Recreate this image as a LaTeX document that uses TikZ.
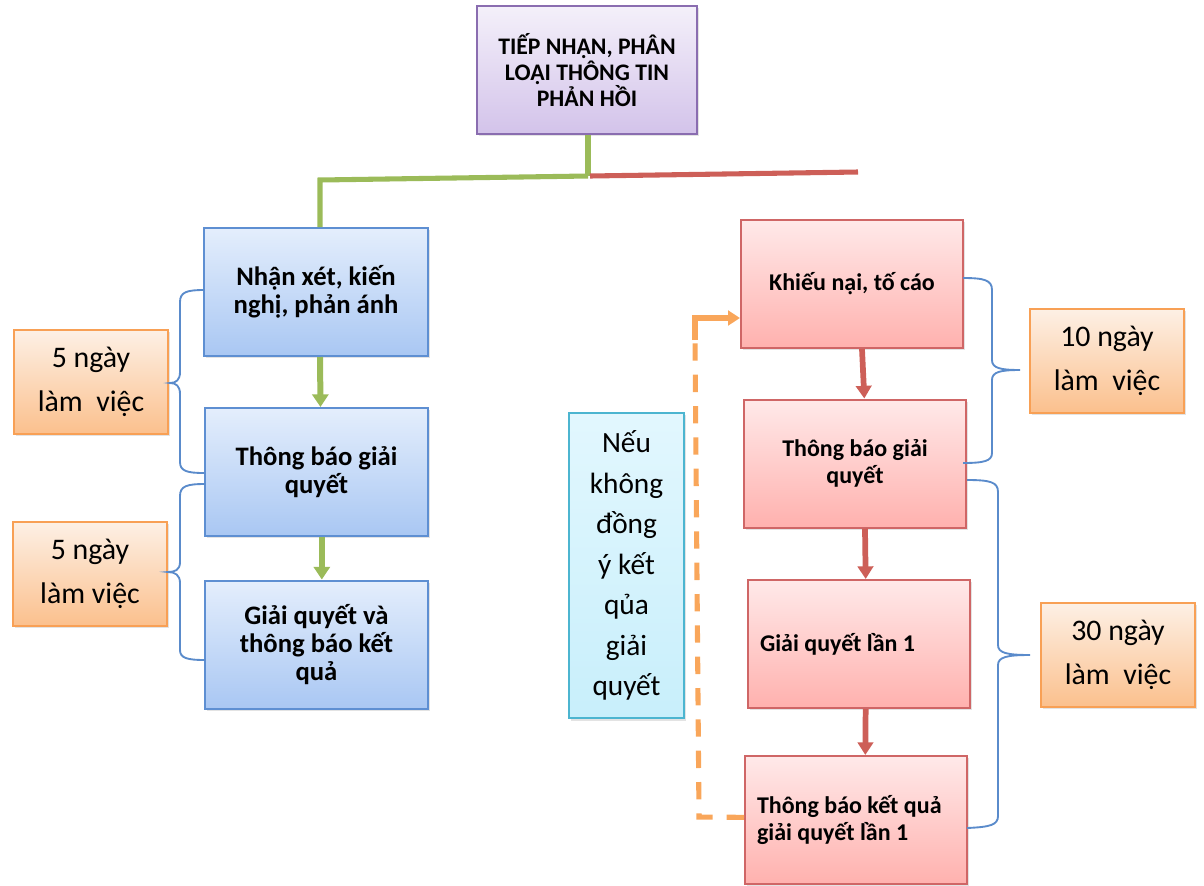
\documentclass[tikz,border=0pt]{standalone}
\usepackage{fontspec}
\setmainfont{Carlito}
\usetikzlibrary{arrows.meta,shadows,calc}
\definecolor{purbd}{HTML}{8A6DB0}
\definecolor{purtop}{HTML}{F4F0FA}
\definecolor{purbot}{HTML}{D3C3EA}
\definecolor{bluebd}{HTML}{5E8FD2}
\definecolor{bluetop}{HTML}{E4EEFC}
\definecolor{bluebot}{HTML}{A9C7F3}
\definecolor{redbd}{HTML}{CF6666}
\definecolor{redtop}{HTML}{FFE9E9}
\definecolor{redbot}{HTML}{FFB1AE}
\definecolor{orbd}{HTML}{F8A055}
\definecolor{ortop}{HTML}{FDF0E5}
\definecolor{orbot}{HTML}{FBC08D}
\definecolor{cybd}{HTML}{4CB5D0}
\definecolor{cytop}{HTML}{E2F7FE}
\definecolor{cybot}{HTML}{C8EFFB}
\definecolor{grn}{HTML}{9BBB59}
\definecolor{redl}{HTML}{CD5F58}
\definecolor{orl}{HTML}{F9A65A}
\definecolor{brc}{HTML}{5A8BCB}
\begin{document}
\begin{tikzpicture}[x=0.75pt,y=-0.75pt,
  box/.style={line width=1.5pt, inner sep=0pt, align=center,
    drop shadow={opacity=0.22, shadow xshift=1.5pt, shadow yshift=-1.8pt}},
  purbox/.style={box, draw=purbd, top color=purtop, bottom color=purbot,
    minimum width=165pt, minimum height=96pt, font=\bfseries\fontsize{17.8}{19.5}\selectfont},
  bluebox/.style={box, draw=bluebd, top color=bluetop, bottom color=bluebot,
    minimum width=167.5pt, minimum height=96pt, font=\bfseries\fontsize{20}{21}\selectfont},
  redbox/.style={box, draw=redbd, top color=redtop, bottom color=redbot,
    minimum width=166.5pt, minimum height=96pt, font=\bfseries\fontsize{18}{20.3}\selectfont},
  redboxl/.style={redbox, align=flush left, inner xsep=9pt, text width=148.5pt},
  orbox/.style={box, draw=orbd, top color=ortop, bottom color=orbot,
    minimum width=116pt, minimum height=78pt, font=\fontsize{22.4}{33}\selectfont},
  cybox/.style={box, draw=cybd, top color=cytop, bottom color=cybot,
    minimum width=86pt, minimum height=229pt, font=\fontsize{22}{30.4}\selectfont},
  gline/.style={draw=grn, line width=3.8pt},
  rline/.style={draw=redl, line width=3.8pt},
  garrow/.style={draw=grn, line width=4.5pt, -{Triangle[width=12pt,length=9.5pt]}},
  rarrow/.style={draw=redl, line width=4.3pt, -{Triangle[width=11.5pt,length=9.5pt]}},
  odash/.style={draw=orl, line width=3.8pt, dash pattern=on 13pt off 10.5pt},
  oarrow/.style={draw=orl, line width=3.8pt, -{Triangle[width=11pt,length=9pt]}},
  brace/.style={draw=brc, line width=1.4pt}
]
\useasboundingbox (0,0) rectangle (1204,886);

% boxes
\node[purbox] (top) at (587,70) {TIẾP NHẬN, PHÂN\\LOẠI THÔNG TIN\\PHẢN HỒI};

\node[bluebox] (l1) at (316,292) {Nhận xét, kiến\\nghị, phản ánh};
\node[bluebox] (l2) at (316.5,472) {Thông báo giải\\quyết};
\node[bluebox] (l3) at (316.5,644.5) {Giải quyết và\\thông báo kết\\quả};

\node[orbox] (o1) at (91,382) {5 ngày\\làm\ \ việc};
\node[orbox] (o2) at (90,574) {5 ngày\\làm việc};

\node[redbox] (r1) at (852,284) {Khiếu nại, tố cáo};
\node[redbox] (r2) at (855,463.5) {Thông báo giải\\quyết};
\node[redboxl] (r3) at (859,644) {Giải quyết lần 1};
\node[redboxl] (r4) at (856,820) {Thông báo kết quả\\giải quyết lần 1};

\node[orbox] (o3) at (1107,361) {10 ngày\\làm\ \ việc};
\node[orbox] (o4) at (1118,655) {30 ngày\\làm\ \ việc};

\node[cybox] (cy) at (626.5,565.5) {Nếu\\không\\đồng\\ý kết\\qủa\\giải\\quyết};

% top split lines
\coordinate (j) at (588,176);
\coordinate (gl) at (320,180);
\coordinate (rend) at (858,172);
\draw[gline] (top.south -| j) -- (j);
\draw[gline] (j) -- (gl) -- ([xshift=3pt]l1.north);
\draw[rline] ([xshift=1.5pt]j) -- (rend);

% arrows
\draw[garrow] ([xshift=3pt]l1.south) -- ([xshift=3pt]l2.north);
\draw[garrow] ([xshift=4pt]l2.south) -- ([xshift=4pt]l3.north);
\draw[rarrow] ([xshift=7.5pt]r1.south) -- ([xshift=7pt]r2.north);
\draw[rarrow] ([xshift=7.5pt]r2.south) -- ([xshift=5pt]r3.north);
\draw[rarrow] ([xshift=5pt]r3.south) -- ([xshift=7pt]r4.north);

% orange feedback loop
\coordinate (fb1) at (699,817);
\coordinate (fb2) at (695,318);
\coordinate (fb3) at (695,340);
\draw[odash] ([yshift=2pt]r4.west) -- (fb1) -- (fb3);
\draw[oarrow] (fb3) -- (fb2) -- ([yshift=-25.5pt]r1.west);

% braces left
\draw[brace] (204,290) .. controls (187,290) and (180,292) .. (180,302) -- (180,372)
  .. controls (180,380) and (176,383) .. (170,383)
  .. controls (176,383) and (180,386) .. (180,394) -- (180,462)
  .. controls (180,471) and (187,473) .. (204,473);
\draw[brace] (205,484) .. controls (187,484) and (180,486) .. (180,496) -- (180,562)
  .. controls (180,570) and (175,572) .. (168,572)
  .. controls (175,572) and (180,575) .. (180,583) -- (180,650)
  .. controls (180,658) and (187,660) .. (205,660);
% braces right
\draw[brace] (963,278) .. controls (984,278) and (992,280) .. (992,290) -- (992,360)
  .. controls (992,368) and (1000,370) .. (1020,370)
  .. controls (1000,370) and (992,372) .. (992,380) -- (992,453)
  .. controls (992,461) and (984,463) .. (963,463);
\draw[brace] (967,480) .. controls (990,480) and (998,482) .. (998,492) -- (998,645)
  .. controls (998,653) and (1007,655) .. (1030,655)
  .. controls (1007,655) and (998,657) .. (998,665) -- (998,816)
  .. controls (998,825) and (990,827) .. (967,828);
\end{tikzpicture}
\end{document}
